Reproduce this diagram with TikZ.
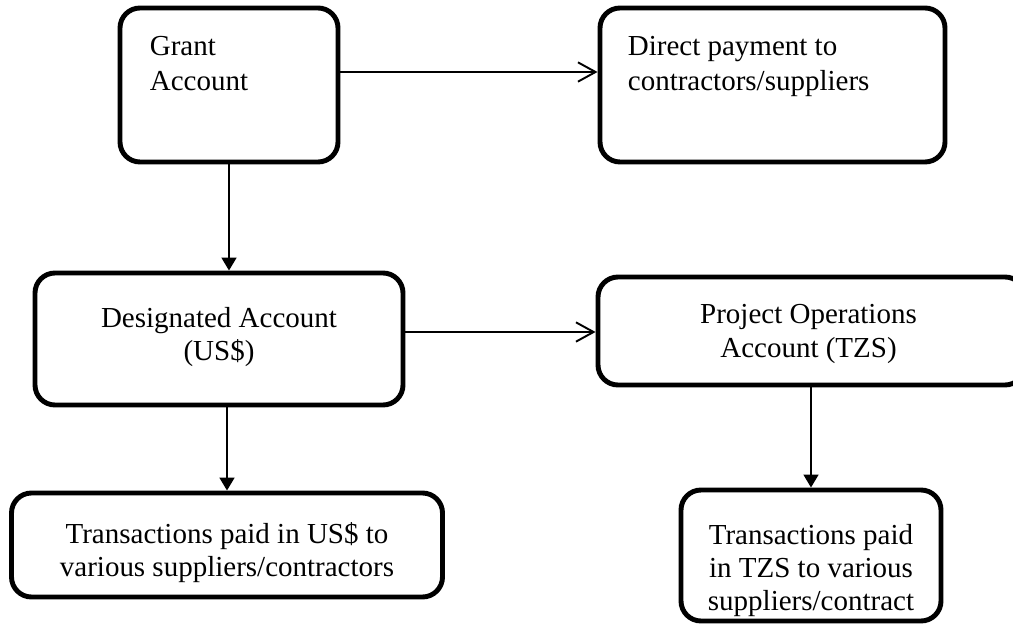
\documentclass[tikz,border=0pt]{standalone}
\usepackage{fontspec}
\setmainfont{Liberation Serif}
\usetikzlibrary{arrows.meta}

\begin{document}
\begin{tikzpicture}[
  acctbox/.style={draw, line width=2.8pt, rounded corners=0.4cm, inner sep=0pt},
  boxtext/.style={font=\fontsize{16.5}{20}\selectfont, align=left, anchor=north west, inner sep=0pt},
  midtext/.style={font=\fontsize{16.5}{19}\selectfont, align=center, inner sep=0pt},
  flow/.style={line width=1.1pt, -{Triangle[length=7.4pt,width=8.5pt]}},
  sideflow/.style={line width=1.1pt, -{Straight Barb[length=10pt,width=11pt]}}
]
  \useasboundingbox (0,0) rectangle (20.26,12.52);

  % Draw the top row: grant account and direct payment
  \node[acctbox, minimum width=4.36cm, minimum height=3.08cm] (grant) at (4.58,10.82) {};
  \node[boxtext] (granttxt) at ([shift={(0.64,-0.6)}]grant.north west) {Grant\\Account};

  \node[acctbox, minimum width=6.9cm, minimum height=3.08cm] (direct) at (15.45,10.82) {};
  \node[boxtext] (directtxt) at ([shift={(0.6,-0.6)}]direct.north west) {Direct payment to\\contractors/suppliers};

  % Draw the middle row: the two accounts
  \node[acctbox, minimum width=7.36cm, minimum height=2.64cm] (desig) at (4.38,5.74) {};
  \node[midtext] (desigtxt) at ([yshift=0.04cm]desig.center) {Designated Account\\(US\$)};
  \node[acctbox, minimum width=8.54cm, minimum height=2.16cm] (ops) at (16.23,5.9) {};
  \node[midtext] (opstxt) at ([xshift=-0.06cm,yshift=-0.06cm]ops.center) {Project Operations\\Account (TZS)};

  % Draw the bottom row: transactions
  \node[acctbox, minimum width=8.62cm, minimum height=2.08cm] (usd) at (4.54,1.62) {};
  \node[midtext] (usdtxt) at ([yshift=-0.15cm]usd.center) {Transactions paid in US\$ to\\various suppliers/contractors};
  \node[acctbox, minimum width=5.2cm, minimum height=2.62cm] (tzs) at (16.22,1.41) {};
  \node[midtext] (tzstxt) at ([yshift=-0.3cm]tzs.center) {Transactions paid\\in TZS to various\\suppliers/contract};

  % Draw the arrows between the boxes
  \coordinate (g1) at ([yshift=0.26cm]grant.east);
  \draw[sideflow] (g1) -- (g1 -| direct.west);
  \coordinate (d1) at ([yshift=0.14cm]desig.east);
  \draw[sideflow] (d1) -- (d1 -| ops.west);

  \draw[flow] (grant.south) -- (grant.south |- desig.north);
  \draw[flow] (desig.south -| usd.north) -- (usd.north);
  \draw[flow] (ops.south -| tzs.north) -- (tzs.north);
\end{tikzpicture}
\end{document}
